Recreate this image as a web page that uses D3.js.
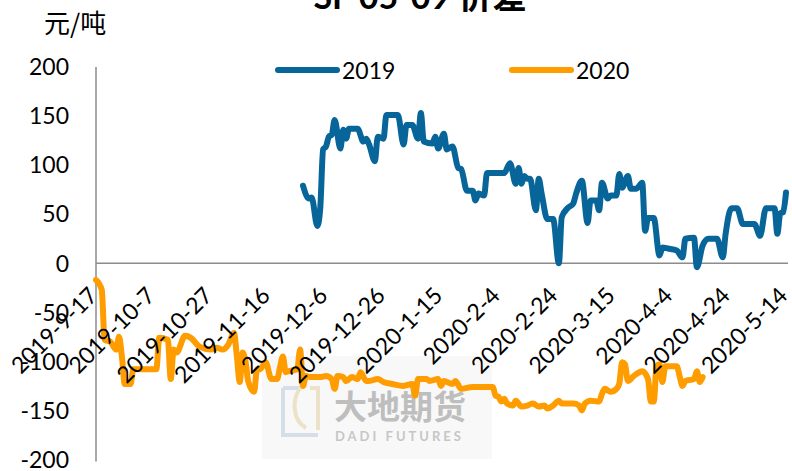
<!DOCTYPE html>
<meta charset="utf-8">
<head>
    <title>SF 05-09 价差</title>
    <script src="https://cdn.jsdelivr.net/npm/d3@7"></script>
    <style>
        body { margin: 0; background: #fff; }
        text { font-family: Lato, "Noto Sans CJK SC", sans-serif; fill: #000; }
    </style>
</head>
<body>
<div id="chart"></div>
<script>
    // tick labels along the date axis (every 20 days)
    var tickLabels = ["2019-9-17", "2019-10-7", "2019-10-27", "2019-11-16", "2019-12-6", "2019-12-26",
        "2020-1-15", "2020-2-4", "2020-2-24", "2020-3-15", "2020-4-4", "2020-4-24", "2020-5-14"];
    var yTicks = [200, 150, 100, 50, 0, -50, -100, -150, -200];

    // series "2019"
    var dates2019 = ["2019-11-28","2019-11-30","2019-12-1","2019-12-3","2019-12-4","2019-12-5","2019-12-6","2019-12-7",
        "2019-12-8","2019-12-9","2019-12-11","2019-12-12","2019-12-13","2019-12-14","2019-12-17","2019-12-19",
        "2019-12-20","2019-12-21","2019-12-23","2019-12-24","2019-12-26","2019-12-27","2019-12-31","2020-1-2",
        "2020-1-3","2020-1-5","2020-1-7","2020-1-8","2020-1-9","2020-1-12","2020-1-13","2020-1-14",
        "2020-1-16","2020-1-17","2020-1-19","2020-1-21","2020-1-22","2020-1-24","2020-1-26","2020-1-27",
        "2020-1-28","2020-1-30","2020-1-31","2020-2-6","2020-2-8","2020-2-10","2020-2-11","2020-2-12",
        "2020-2-13","2020-2-14","2020-2-15","2020-2-17","2020-2-18","2020-2-19","2020-2-21","2020-2-23",
        "2020-2-25","2020-2-26","2020-2-28","2020-3-1","2020-3-2","2020-3-4","2020-3-6","2020-3-7",
        "2020-3-9","2020-3-10","2020-3-11","2020-3-13","2020-3-14","2020-3-16","2020-3-17","2020-3-18",
        "2020-3-20","2020-3-21","2020-3-23","2020-3-25","2020-3-26","2020-3-27","2020-3-29","2020-3-31",
        "2020-4-1","2020-4-3","2020-4-6","2020-4-8","2020-4-9","2020-4-12","2020-4-13","2020-4-15",
        "2020-4-17","2020-4-20","2020-4-22","2020-4-23","2020-4-25","2020-4-27","2020-4-29","2020-5-3",
        "2020-5-5","2020-5-7","2020-5-10","2020-5-11","2020-5-12","2020-5-13","2020-5-14"];
    var values2019 = [79,66,67,38,56,116,119,129,
        131,146,117,136,127,137,137,124,
        127,121,104,129,127,151,151,121,
        141,141,127,153,124,122,129,117,
        132,116,119,97,96,74,74,64,
        71,69,92,92,102,81,97,81,
        89,86,86,54,86,71,45,45,
        0,47,56,61,71,84,41,64,
        64,54,82,66,69,69,91,77,
        89,76,76,82,33,46,46,8,
        16,15,13,6,25,26,-4,18,
        25,25,6,30,56,56,40,40,
        28,56,56,30,51,52,72];

    // series "2020"
    var dates2020 = ["2019-9-17","2019-9-19","2019-9-20","2019-9-22","2019-9-24","2019-9-25","2019-9-26","2019-9-27",
        "2019-9-29","2019-9-30","2019-10-8","2019-10-9","2019-10-12","2019-10-13","2019-10-14","2019-10-15",
        "2019-10-18","2019-10-20","2019-10-23","2019-10-27","2019-10-29","2019-10-31","2019-11-2","2019-11-4",
        "2019-11-5","2019-11-6","2019-11-7","2019-11-8","2019-11-9","2019-11-11","2019-11-12","2019-11-13",
        "2019-11-15","2019-11-17","2019-11-19","2019-11-20","2019-11-21","2019-11-22","2019-11-23","2019-11-26",
        "2019-11-27","2019-11-28","2019-11-29","2019-12-1","2019-12-4","2019-12-6","2019-12-8","2019-12-9",
        "2019-12-10","2019-12-12","2019-12-13","2019-12-15","2019-12-17","2019-12-18","2019-12-20","2019-12-21",
        "2019-12-24","2019-12-26","2019-12-29","2020-1-2","2020-1-5","2020-1-6","2020-1-7","2020-1-10",
        "2020-1-11","2020-1-14","2020-1-15","2020-1-16","2020-1-17","2020-1-19","2020-1-20","2020-1-22",
        "2020-1-26","2020-2-2","2020-2-3","2020-2-4","2020-2-5","2020-2-6","2020-2-7","2020-2-9",
        "2020-2-10","2020-2-12","2020-2-14","2020-2-16","2020-2-18","2020-2-20","2020-2-21","2020-2-23",
        "2020-2-25","2020-2-26","2020-3-1","2020-3-3","2020-3-4","2020-3-5","2020-3-7","2020-3-10",
        "2020-3-11","2020-3-12","2020-3-14","2020-3-16","2020-3-17","2020-3-18","2020-3-19","2020-3-20",
        "2020-3-22","2020-3-24","2020-3-25","2020-3-27","2020-3-28","2020-3-29","2020-3-30","2020-3-31",
        "2020-4-1","2020-4-2","2020-4-6","2020-4-7","2020-4-8","2020-4-9","2020-4-12","2020-4-13",
        "2020-4-14","2020-4-15"];
    var values2020 = [-17,-27,-78,-80,-88,-75,-95,-123,
        -123,-108,-108,-76,-78,-118,-88,-91,
        -74,-76,-85,-88,-86,-88,-83,-71,
        -95,-121,-91,-100,-121,-131,-108,-108,
        -101,-118,-118,-106,-95,-111,-110,-108,
        -88,-125,-115,-116,-116,-115,-118,-128,
        -115,-116,-120,-116,-118,-111,-120,-120,
        -118,-121,-123,-125,-123,-135,-118,-118,
        -120,-118,-125,-120,-121,-123,-120,-128,
        -126,-126,-135,-136,-141,-138,-143,-145,
        -140,-146,-145,-143,-146,-145,-148,-145,
        -140,-143,-143,-145,-150,-143,-140,-141,
        -133,-128,-131,-128,-123,-101,-103,-120,
        -115,-111,-110,-118,-141,-141,-105,-103,
        -121,-105,-105,-115,-125,-120,-118,-110,
        -121,-116];

    var width = 792, height = 471;
    var parseDate = d3.timeParse("%Y-%m-%d");

    var svg = d3.select("#chart").append("svg")
        .attr("width", width)
        .attr("height", height);

    var x = d3.scaleTime()
        .domain([parseDate(tickLabels[0]), parseDate(tickLabels[tickLabels.length - 1])])
        .range([96, 786]);
    var y = d3.scaleLinear().domain([-200, 200]).range([459.5, 67]);

    // watermark
    var wm = svg.append("g").attr("opacity", 0.75);
    wm.append("rect").attr("x", 262).attr("y", 356).attr("width", 230).attr("height", 103).attr("fill", "#f6f6f6");
    wm.append("path").attr("d", "M283,388 L300,388 M283,388 L283,435 L318,435")
        .attr("fill", "none").attr("stroke", "#c9d3e2").attr("stroke-width", 4);
    wm.append("path").attr("d", "M300,388 C292,400 292,420 306,428 M310,388 L318,388 L318,430")
        .attr("fill", "none").attr("stroke", "#e6d9b8").attr("stroke-width", 4);
    wm.append("text").attr("x", 334).attr("y", 419).attr("font-size", 33).attr("font-weight", "bold")
        .style("fill", "#a9a9a9").style("letter-spacing", "0px").text("大地期货");
    wm.append("text").attr("x", 335).attr("y", 441).attr("font-size", 13).attr("font-weight", "bold")
        .style("fill", "#b4b4b4").style("letter-spacing", "3px").text("DADI FUTURES");

    // axes lines
    svg.append("line").attr("x1", 96).attr("x2", 96).attr("y1", y(200)).attr("y2", y(-200) + 2)
        .attr("stroke", "#8c8c8c").attr("stroke-width", 1.5);
    svg.append("line").attr("x1", 96).attr("x2", 788).attr("y1", y(0)).attr("y2", y(0))
        .attr("stroke", "#8c8c8c").attr("stroke-width", 1.5);

    // y tick labels
    svg.selectAll(".ytick").data(yTicks).enter().append("text")
        .attr("class", "ytick")
        .attr("x", 69)
        .attr("y", function(d) { return y(d); })
        .attr("dy", "0.36em")
        .attr("text-anchor", "end")
        .attr("font-size", 23)
        .text(function(d) { return d; });

    // lines
    var line = d3.line()
        .x(function(d) { return x(d.date); })
        .y(function(d) { return y(d.value); })
        .curve(d3.curveMonotoneX);

    var s2019 = dates2019.map(function(d, i) { return { date: parseDate(d), value: values2019[i] }; });
    var s2020 = dates2020.map(function(d, i) { return { date: parseDate(d), value: values2020[i] }; });

    svg.append("path").datum(s2020).attr("d", line)
        .attr("fill", "none").attr("stroke", "#ff9c00").attr("stroke-width", 6)
        .attr("stroke-linejoin", "round").attr("stroke-linecap", "round");
    svg.append("path").datum(s2019).attr("d", line)
        .attr("fill", "none").attr("stroke", "#07659a").attr("stroke-width", 6)
        .attr("stroke-linejoin", "round").attr("stroke-linecap", "round");

    // x tick labels, rotated
    svg.selectAll(".xtick").data(tickLabels).enter().append("text")
        .attr("class", "xtick")
        .attr("transform", function(d) { return "translate(" + (x(parseDate(d)) + 3) + ",297) rotate(-45)"; })
        .attr("text-anchor", "end")
        .attr("font-size", 23)
        .text(function(d) { return d; });

    // unit label
    svg.append("text").attr("x", 44).attr("y", 33).attr("font-size", 26)
        .style("font-family", "'Noto Sans CJK SC', sans-serif").text("元/吨");

    // title, mostly cut off by the top edge
    svg.append("text").attr("x", 420).attr("y", 9).attr("text-anchor", "middle")
        .attr("font-size", 34).attr("font-weight", "bold").text("SF 05-09 价差");

    // legend
    var legend = [{ name: "2019", color: "#07659a", x: 278 }, { name: "2020", color: "#ff9c00", x: 512 }];
    var lg = svg.selectAll(".legend").data(legend).enter().append("g").attr("class", "legend");
    lg.append("line")
        .attr("x1", function(d) { return d.x; }).attr("x2", function(d) { return d.x + 59; })
        .attr("y1", 70).attr("y2", 70)
        .attr("stroke", function(d) { return d.color; }).attr("stroke-width", 6).attr("stroke-linecap", "round");
    lg.append("text")
        .attr("x", function(d) { return d.x + 64; }).attr("y", 79)
        .attr("font-size", 23)
        .text(function(d) { return d.name; });
</script>
</body>
</html>
